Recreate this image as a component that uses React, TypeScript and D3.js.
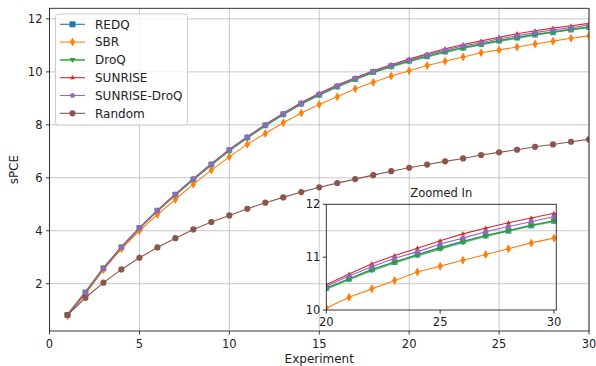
import React from "react";
import * as d3 from "d3";

const experiments = [1,2,3,4,5,6,7,8,9,10,11,12,13,14,15,16,17,18,19,20,21,22,23,24,25,26,27,28,29,30];
const redq = [0.82,1.67,2.58,3.38,4.10,4.76,5.36,5.94,6.50,7.04,7.52,7.98,8.40,8.80,9.14,9.45,9.73,9.99,10.21,10.415,10.59,10.77,10.91,11.05,11.18,11.30,11.41,11.50,11.60,11.69];
const sbr = [0.79,1.62,2.53,3.32,4.00,4.61,5.18,5.76,6.29,6.79,7.27,7.67,8.08,8.45,8.77,9.06,9.36,9.61,9.84,10.04,10.24,10.40,10.56,10.72,10.83,10.94,11.05,11.16,11.27,11.36];
const droq = [0.83,1.68,2.59,3.38,4.10,4.76,5.36,5.94,6.49,7.03,7.51,7.97,8.39,8.79,9.13,9.44,9.72,9.98,10.20,10.40,10.58,10.75,10.90,11.03,11.16,11.28,11.40,11.50,11.60,11.68];
const sunrise = [0.82,1.66,2.58,3.38,4.11,4.77,5.38,5.97,6.53,7.07,7.55,8.01,8.44,8.84,9.19,9.50,9.78,10.04,10.27,10.48,10.68,10.875,11.03,11.17,11.31,11.44,11.55,11.65,11.74,11.83];
const sunriseDroq = [0.82,1.66,2.57,3.37,4.10,4.76,5.37,5.96,6.52,7.06,7.54,8.00,8.42,8.82,9.17,9.48,9.76,10.02,10.25,10.45,10.645,10.82,10.98,11.10,11.25,11.36,11.48,11.58,11.67,11.77];
const random = [0.82,1.47,2.04,2.54,2.98,3.37,3.72,4.05,4.33,4.58,4.83,5.06,5.26,5.46,5.64,5.80,5.95,6.10,6.25,6.38,6.50,6.62,6.73,6.86,6.96,7.06,7.17,7.26,7.36,7.45];

const seriesNames = ["REDQ","SBR","DroQ","SUNRISE","SUNRISE-DroQ","Random"];
const seriesValues = [redq, sbr, droq, sunrise, sunriseDroq, random];
const seriesColors = ["#1f77b4","#ff7f0e","#2ca02c","#d62728","#9467bd","#8c564b"];

const xTicks = [0,5,10,15,20,25,30];
const yTicks = [2,4,6,8,10,12];
const insetXTicks = [20,25,30];
const insetYTicks = [10,11,12];

const FONT = "DejaVu Sans, sans-serif";

function markerPath(i: number): string {
  switch (i) {
    case 0: return "M-3,-3L3,-3L3,3L-3,3Z";
    case 1: return "M0,-4.5L2.6,0L0,4.5L-2.6,0Z";
    case 2: return "M-3,-2L3,-2L0,3.2Z";
    case 3: return "M0,-2.6L2.4,1.6L-2.4,1.6Z";
    case 4: {
      const pts = d3.range(5).map(k => {
        const a = -Math.PI / 2 + k * 2 * Math.PI / 5;
        return [2.8 * Math.cos(a), 2.8 * Math.sin(a)];
      });
      return "M" + pts.map(p => p[0].toFixed(2) + "," + p[1].toFixed(2)).join("L") + "Z";
    }
    default: return d3.symbol(d3.symbolCircle, 30)() as string;
  }
}

function Series({ x, y, clip }: { x: d3.ScaleLinear<number, number>; y: d3.ScaleLinear<number, number>; clip: string }) {
  return (
    <g clipPath={`url(#${clip})`}>
      {seriesValues.map((vals, i) => {
        const line = d3.line<number>().x((_, j) => x(experiments[j])).y(v => y(v));
        return (
          <g key={i}>
            <path d={line(vals) || ""} fill="none" stroke={seriesColors[i]}
              strokeWidth={i === 2 ? 2 : 1.1} strokeOpacity={i === 2 ? 0.75 : 1} />
            {vals.map((v, j) => (
              <path key={j} d={markerPath(i)} transform={`translate(${x(experiments[j])},${y(v)})`}
                fill={seriesColors[i]} fillOpacity={i === 0 ? 0.75 : 1} />
            ))}
          </g>
        );
      })}
    </g>
  );
}

export default function App() {
  const W = 596, H = 366;
  const left = 49.5, right = 589, top = 8.3, bottom = 331;
  const x = d3.scaleLinear().domain([0, 30]).range([left, right]);
  const y = d3.scaleLinear().domain([0.215, 12.40]).range([bottom, top]);

  const iLeft = 326.3, iTop = 204.3, iBottom = 310;
  const ix = d3.scaleLinear().domain([20, 30]).range([iLeft, 554]);
  const iRight = ix(30.1);
  const iy = d3.scaleLinear().domain([10, 12]).range([iBottom, iTop]);

  const legX = 55.5, legY = 14, legW = 132, legH = 111;

  return (
    <svg width={W} height={H} style={{ position: "absolute", left: 0, top: 0, fontFamily: FONT }}>
      <rect width={W} height={H} fill="white" />
      <defs>
        <clipPath id="mainClip"><rect x={left} y={top} width={right - left} height={bottom - top} /></clipPath>
        <clipPath id="insetClip"><rect x={iLeft} y={iTop} width={iRight - iLeft} height={iBottom - iTop} /></clipPath>
      </defs>
      {/* grid */}
      {xTicks.map(t => (
        <line key={"gx" + t} x1={x(t)} x2={x(t)} y1={top} y2={bottom} stroke="#b0b0b0" strokeOpacity={0.7} strokeWidth={1} />
      ))}
      {yTicks.map(t => (
        <line key={"gy" + t} x1={left} x2={right} y1={y(t)} y2={y(t)} stroke="#b0b0b0" strokeOpacity={0.7} strokeWidth={1} />
      ))}
      <Series x={x} y={y} clip="mainClip" />
      {/* main spines */}
      <rect x={left} y={top} width={right - left} height={bottom - top} fill="none" stroke="#222" strokeWidth={0.9} />
      {xTicks.map(t => (
        <g key={"xt" + t}>
          <line x1={x(t)} x2={x(t)} y1={bottom} y2={bottom + 3.5} stroke="#222" strokeWidth={0.9} />
          <text x={x(t)} y={bottom + 16.5} fontSize={11.5} textAnchor="middle" fill="#222">{t}</text>
        </g>
      ))}
      {yTicks.map(t => (
        <g key={"yt" + t}>
          <line x1={left - 3.5} x2={left} y1={y(t)} y2={y(t)} stroke="#222" strokeWidth={0.9} />
          <text x={left - 7} y={y(t)} dy="0.36em" fontSize={11.5} textAnchor="end" fill="#222">{t}</text>
        </g>
      ))}
      <text x={(left + right) / 2} y={363} fontSize={12} textAnchor="middle" fill="#222">Experiment</text>
      <text transform={`translate(18,${(top + bottom) / 2}) rotate(-90)`} fontSize={12} textAnchor="middle" fill="#222">sPCE</text>

      {/* legend */}
      <rect x={legX} y={legY} width={legW} height={legH} rx={3} fill="white" fillOpacity={0.8} stroke="#cccccc" strokeWidth={1} />
      {seriesNames.map((name, i) => {
        const ly = 24.3 + i * 17.8;
        return (
          <g key={name}>
            <line x1={60} x2={85} y1={ly} y2={ly} stroke={seriesColors[i]} strokeWidth={i === 2 ? 2 : 1.1} strokeOpacity={i === 2 ? 0.75 : 1} />
            <path d={markerPath(i)} transform={`translate(72.5,${ly})`} fill={seriesColors[i]} />
            <text x={95} y={ly} dy="0.36em" fontSize={12} fill="#222">{name}</text>
          </g>
        );
      })}

      {/* inset */}
      <Series x={ix} y={iy} clip="insetClip" />
      <rect x={iLeft} y={iTop} width={iRight - iLeft} height={iBottom - iTop} fill="none" stroke="#222" strokeWidth={0.9} />
      {insetXTicks.map(t => (
        <g key={"ixt" + t}>
          <line x1={ix(t)} x2={ix(t)} y1={iBottom} y2={iBottom + 3.5} stroke="#222" strokeWidth={0.9} />
          <text x={ix(t)} y={iBottom + 15.5} fontSize={11.5} textAnchor="middle" fill="#222">{t}</text>
        </g>
      ))}
      {insetYTicks.map(t => (
        <g key={"iyt" + t}>
          <line x1={iLeft - 3.5} x2={iLeft} y1={iy(t)} y2={iy(t)} stroke="#222" strokeWidth={0.9} />
          <text x={iLeft - 6} y={iy(t)} dy="0.36em" fontSize={11.5} textAnchor="end" fill="#222">{t}</text>
        </g>
      ))}
      <text x={(iLeft + iRight) / 2} y={iTop - 7.5} fontSize={11.5} textAnchor="middle" fill="#222">Zoomed In</text>
    </svg>
  );
}
